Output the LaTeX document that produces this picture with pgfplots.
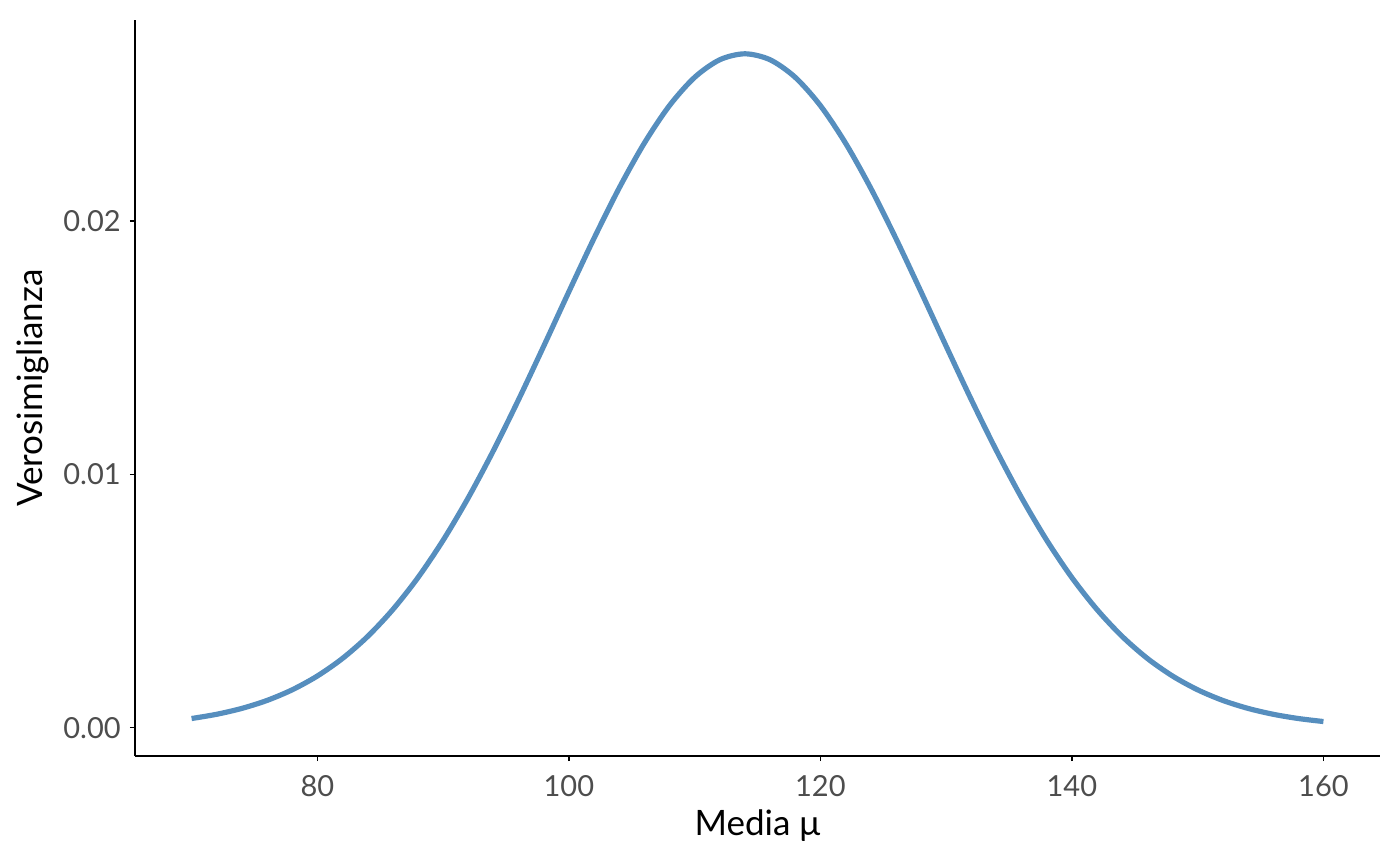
\documentclass[border=0pt]{standalone}
\usepackage{fontspec}
\setmainfont{Lato}
\usepackage{pgfplots}
\pgfplotsset{compat=1.18}
\usetikzlibrary{calc}
\definecolor{curve}{RGB}{86,142,190}
\definecolor{ticktext}{RGB}{77,77,77}
\begin{document}
\begin{tikzpicture}
\begin{axis}[
  scale only axis,
  width=622.5pt, height=368pt,
  xmin=65.5, xmax=164.5,
  ymin=-0.00112, ymax=0.02793,
  axis x line*=bottom, axis y line*=left,
  axis line style={-, line width=0.8pt, black},
  tick align=outside,
  major tick length=2.6pt,
  tick style={line width=0.7pt, black},
  xtick={80,100,120,140,160},
  ytick={0,0.01,0.02},
  yticklabels={0.00,0.01,0.02},
  scaled y ticks=false,
  scaled x ticks=false,
  /pgf/number format/assume math mode=true,
  ticklabel style={font=\fontsize{14.5}{16}\selectfont, text=ticktext},
  xticklabel style={anchor=center, yshift=-12.5pt},
  yticklabel style={xshift=-1pt},
  xlabel={Media μ},
  ylabel={Verosimiglianza},
  label style={font=\fontsize{17.5}{20}\selectfont},
  xlabel style={at={(axis description cs:0.5,0)}, anchor=center, yshift=-35pt},
  ylabel style={at={(axis description cs:0,0.5)}, anchor=center, yshift=51pt},
  clip=false,
]
\addplot[curve, line width=2.6pt, smooth, tension=0.5] coordinates {
(70,0.000360) (72,0.000528) (74,0.000760) (76,0.001074) (78,0.001493)
(80,0.002038) (82,0.002732) (84,0.003599) (86,0.004659) (88,0.005921)
(90,0.007395) (92,0.009073) (94,0.010934) (96,0.012946) (98,0.015057)
(100,0.017205) (102,0.019313) (104,0.021297) (106,0.023070) (108,0.024552)
(110,0.025667) (112,0.026361) (114,0.026596) (116,0.026361) (118,0.025667)
(120,0.024552) (122,0.023070) (124,0.021297) (126,0.019313) (128,0.017205)
(130,0.015057) (132,0.012946) (134,0.010934) (136,0.009073) (138,0.007395)
(140,0.005921) (142,0.004659) (144,0.003599) (146,0.002732) (148,0.002038)
(150,0.001493) (152,0.001074) (154,0.000760) (156,0.000528) (158,0.000360)
(160,0.000241)
};
\end{axis}
\path[use as bounding box] ($(current axis.south west)+(-67.5pt,-54.5pt)$) rectangle ($(current axis.north east)+(10pt,10pt)$);
\end{tikzpicture}
\end{document}
